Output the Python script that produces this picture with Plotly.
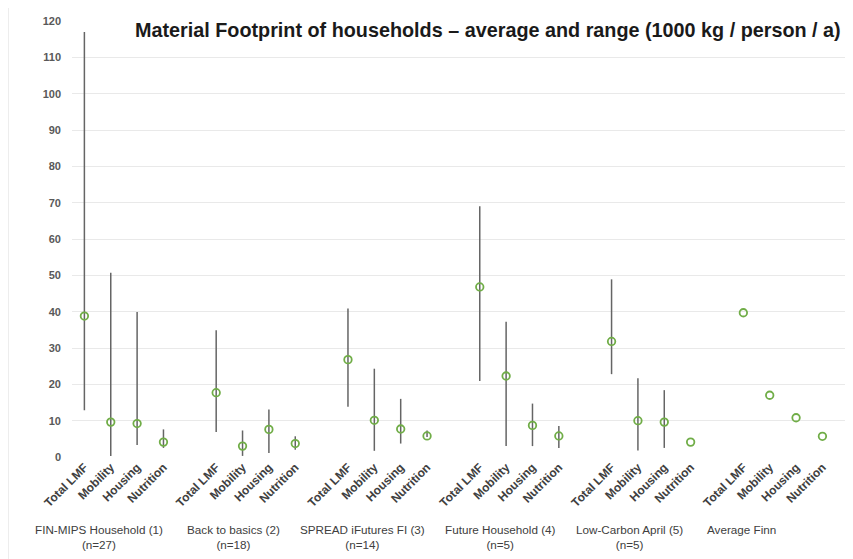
import plotly.graph_objects as go

groups = ["FIN-MIPS Household (1)<br>(n=27)", "Back to basics (2)<br>(n=18)",
          "SPREAD iFutures FI (3)<br>(n=14)", "Future Household (4)<br>(n=5)",
          "Low-Carbon April (5)<br>(n=5)", "Average Finn"]
categories = ["Total LMF", "Mobility", "Housing", "Nutrition"]

means = [
    [38.8, 9.6, 9.2, 4.1],
    [17.7, 3.0, 7.6, 3.7],
    [26.8, 10.1, 7.7, 5.8],
    [46.8, 22.3, 8.7, 5.8],
    [31.8, 10.0, 9.6, 4.1],
    [39.7, 17.0, 10.8, 5.7],
]
lows = [
    [12.9, 0.3, 3.3, 2.5],
    [6.9, 0.3, 1.1, 2.0],
    [13.8, 1.7, 3.7, 5.5],
    [20.9, 3.0, 3.0, 2.5],
    [22.8, 1.8, 2.5, 4.1],
    [39.7, 17.0, 10.8, 5.7],
]
highs = [
    [117.0, 50.7, 39.9, 7.6],
    [34.9, 7.3, 13.1, 5.7],
    [40.9, 24.3, 16.0, 7.3],
    [69.0, 37.2, 14.7, 8.5],
    [48.9, 21.7, 18.4, 4.1],
    [39.7, 17.0, 10.8, 5.7],
]
group_label_offset = [0.56, 0.64, 0.55, 0.8, 0.67, -0.07]

xs, ys, ep, em, tt = [], [], [], [], []
for g in range(len(groups)):
    for c in range(len(categories)):
        xs.append(g * 5 + c)
        ys.append(means[g][c])
        ep.append(highs[g][c] - means[g][c])
        em.append(means[g][c] - lows[g][c])
        tt.append(categories[c])

fig = go.Figure()
fig.add_trace(go.Scatter(
    x=xs, y=ys, mode="markers",
    marker=dict(symbol="circle-open", size=7.5, color="#70AD47", line=dict(width=1.8, color="#70AD47")),
    error_y=dict(type="data", symmetric=False, array=ep, arrayminus=em,
                 color="#656565", thickness=1.5, width=0),
    showlegend=False,
))

annotations = []
for g, name in enumerate(groups):
    annotations.append(dict(
        x=g * 5 + group_label_offset[g], y=-0.147, xref="x", yref="paper",
        text=name, showarrow=False, yanchor="top", xanchor="center",
        font=dict(family="Liberation Sans, Arial", size=11.7, color="#404040"),
    ))
annotations.append(dict(
    x=0.533, y=0.979, xref="paper", yref="paper",
    text="<b>Material Footprint of households – average and range (1000 kg / person / a)</b>",
    showarrow=False, xanchor="center", yanchor="middle",
    font=dict(family="Liberation Sans, Arial", size=19.8, color="#1a1a1a"),
    bgcolor="white", borderpad=5,
))

fig.update_layout(
    width=845, height=551,
    margin=dict(l=64, r=0, t=13, b=102),
    paper_bgcolor="white", plot_bgcolor="white",
    annotations=annotations,
    shapes=[
        dict(type="line", xref="paper", yref="paper", x0=-0.082, x1=1.05, y0=1.036, y1=1.036,
             line=dict(color="#dedede", width=1.2)),
        dict(type="line", xref="paper", yref="paper", x0=-0.082, x1=-0.082, y0=1.036, y1=-0.3,
             line=dict(color="#dedede", width=1.2)),
    ],
    xaxis=dict(
        range=[-0.47, 29.16], tickmode="array", tickvals=xs, ticktext=tt,
        tickangle=-45, showgrid=False, zeroline=False, showline=False, ticks="",
        tickfont=dict(family="Liberation Sans, Arial", size=12, color="#404040", weight="bold"),
    ),
    yaxis=dict(
        range=[0, 120], dtick=10, showgrid=True, gridcolor="#e9e9e9", gridwidth=1,
        zeroline=False, showline=False, ticks="", ticklabelstandoff=10,
        tickfont=dict(family="Liberation Sans, Arial", size=11, color="#595959", weight="bold"),
    ),
)

fig.write_html("out.html")
